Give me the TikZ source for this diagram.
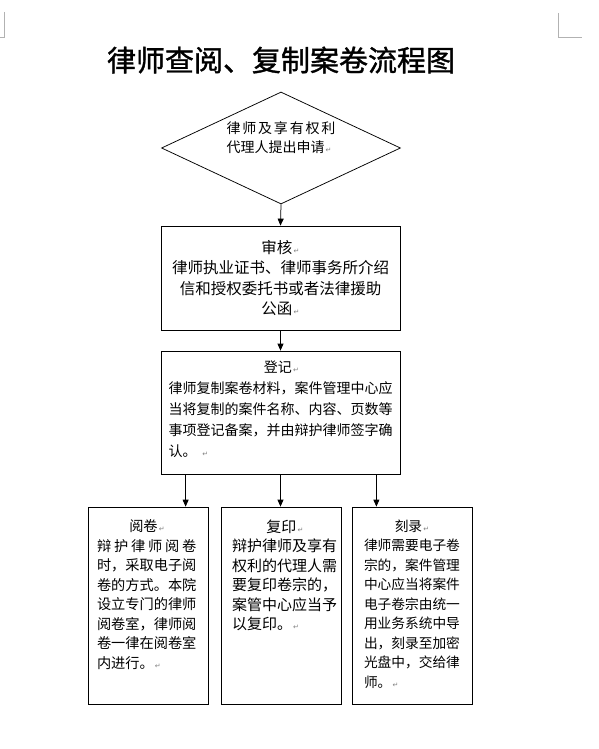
\documentclass[tikz,border=0pt]{standalone}
\usepackage{fontspec}
\setmainfont{Noto Sans CJK SC}
\newfontfamily\titlefont[FakeBold=1.2]{Noto Sans CJK SC}
\newfontfamily\markfont{DejaVu Sans}
\usetikzlibrary{positioning,calc}
\usetikzlibrary{arrows.meta}
\usetikzlibrary{shapes.geometric}

\newcommand{\retmark}{{\markfont\color{gray}\fontsize{7}{7}\selectfont\,↵}}

\begin{document}
\begin{tikzpicture}[x=1pt, y=-1pt,
    box/.style={draw, line width=0.75pt, inner sep=0pt},
    tallbox/.style={box, minimum width=120pt, minimum height=197pt},
    decision/.style={draw, diamond, aspect=2.1, line width=0.75pt, inner sep=0pt,
                     minimum width=239pt, minimum height=112pt, align=left},
    boxtext/.style={anchor=north, inner sep=0pt, align=left},
    flow/.style={->, >={Triangle[length=7pt,width=6pt]}, line width=0.75pt},
    cornermark/.style={gray!60, line width=0.5pt}]
  % \draw[step=10pt, gray!20!white, very thin] (0,0) grid (599,749);
  \useasboundingbox (0,0) rectangle (599,749);

  \draw[cornermark] (4,12) -- (4,37) -- (0,37);
  \draw[cornermark] (558,13) -- (558,37) -- (582,37);

  \node[font=\titlefont\fontsize{29}{29}\selectfont] at (281,60) (title) {律师查阅、复制案卷流程图};

  \node[decision, font=\fontsize{14}{19.3}\selectfont] at (281,148) (apply)
    {\makebox[109pt]{律\hfill 师\hfill 及\hfill 享\hfill 有\hfill 权\hfill 利}\\代理人提出申请\retmark\\[3pt]};

  \node[box, minimum width=239pt, minimum height=104pt, align=center,
        font=\fontsize{15.5}{20.5}\selectfont] at (280.5,278) (review)
    {审核\retmark\\律师执业证书、律师事务所介绍\\信和授权委托书或者法律援助\\公函\retmark};

  \node[box, minimum width=239pt, minimum height=123pt] at (280.5,412.5) (register) {};
  \node[boxtext, text width=226pt, font=\fontsize{14}{21}\selectfont]
    at ($(register.north)+(1,10)$) (register-txt)
    {{\centering 登记\retmark\par}
     律师复制案卷材料，案件管理中心应\\
     当将复制的案件名称、内容、页数等\\
     事项登记备案，并由辩护律师签字确\\
     认。 \retmark};

  % three ways to get the files
  \node[tallbox] at (148,605.5) (read) {};
  \node[tallbox] at (281,605.5) (copy) {};
  \node[tallbox] at (412,605.5) (burn) {};

  \node[boxtext, text width=100pt, font=\fontsize{14.2}{19.5}\selectfont]
    at ($(read.north)+(-1,13)$) (read-txt)
    {{\centering 阅卷\retmark\par}
     \makebox[99.4pt]{辩\hfill 护\hfill 律\hfill 师\hfill 阅\hfill 卷}\\
     时，采取电子阅\\
     卷的方式。本院\\
     设立专门的律师\\
     阅卷室，律师阅\\
     卷一律在阅卷室\\
     内进行。\retmark};

  \node[boxtext, text width=106pt, font=\fontsize{15}{19.5}\selectfont]
    at ($(copy.north)+(4,13)$) (copy-txt)
    {{\centering 复印\retmark\par}
     辩护律师及享有\\
     权利的代理人需\\
     要复印卷宗的，\\
     案管中心应当予\\
     以复印。\retmark};

  \node[boxtext, text width=96pt, font=\fontsize{13.7}{19.5}\selectfont]
    at ($(burn.north)+(0,13)$) (burn-txt)
    {{\centering 刻录\retmark\par}
     律师需要电子卷\\
     宗的，案件管理\\
     中心应当将案件\\
     电子卷宗由统一\\
     用业务系统中导\\
     出，刻录至加密\\
     光盘中，交给律\\
     师。\retmark};

  \draw[flow] (apply.south) -- (review.north);
  \draw[flow] (review.south) -- (register.north);
  \draw[flow] ([xshift=25pt]register.south west) -- ([xshift=25pt]register.south west |- read.north);
  \draw[flow] (register.south) -- (register.south |- copy.north);
  \draw[flow] ([xshift=-24pt]register.south east) -- ([xshift=-24pt]register.south east |- burn.north);

\end{tikzpicture}
\end{document}
